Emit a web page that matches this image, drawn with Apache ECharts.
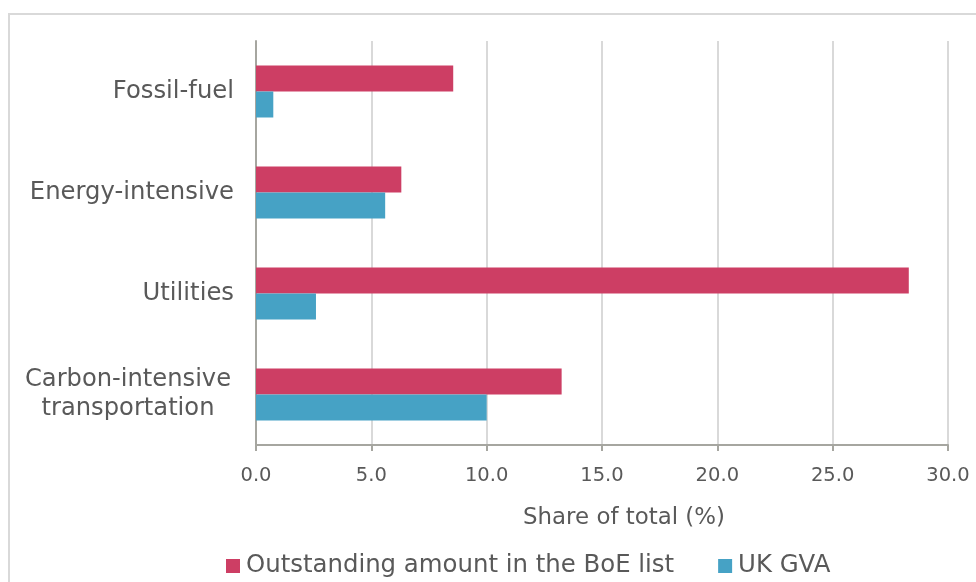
<!DOCTYPE html>
<html><head><meta charset="utf-8">
<script src="https://cdn.jsdelivr.net/npm/echarts@6/dist/echarts.min.js"></script>
<style>html,body{margin:0;padding:0;background:#fff}#c{width:976px;height:582px}</style>
</head><body><div id="c"></div>
<script>
const categories = ['Carbon-intensive transportation', 'Utilities', 'Energy-intensive', 'Fossil-fuel'];
const boeValues = [13.25, 28.3, 6.3, 8.55];
const gvaValues = [10.0, 2.6, 5.6, 0.75];
const seriesNames = ['Outstanding amount in the BoE list', 'UK GVA'];
const xTicks = { min: 0, max: 30, interval: 5 };

const FONT = '"DejaVu Sans", sans-serif';
const TXT = '#595959';
const chart = echarts.init(document.getElementById('c'), null, { renderer: 'canvas' });
chart.setOption({
  animation: false,
  backgroundColor: '#fff',
  graphic: [{
    type: 'rect', shape: { x: 9, y: 14, width: 1000, height: 600 },
    style: { fill: 'none', stroke: '#d9d9d9', lineWidth: 2 }, silent: true, z: -10
  }],
  grid: { left: 256, right: 28, top: 41, bottom: 137, containLabel: false },
  legend: {
    top: 549, left: 221, itemWidth: 14, itemHeight: 14, itemGap: 44,
    icon: 'rect',
    textStyle: { fontFamily: FONT, fontSize: 24.4, color: TXT, padding: [0, 0, 0, 1] },
    data: seriesNames
  },
  xAxis: {
    type: 'value', min: xTicks.min, max: xTicks.max, interval: xTicks.interval,
    name: 'Share of total (%)', nameLocation: 'middle', nameGap: 62,
    nameTextStyle: { fontFamily: FONT, fontSize: 22.9, color: TXT, padding: [0, 0, 0, 44] },
    axisLine: { show: true, lineStyle: { color: '#a6a6a0', width: 2 } },
    axisTick: { show: true, length: 6, lineStyle: { color: '#a6a6a0', width: 2 } },
    axisLabel: { fontFamily: FONT, fontSize: 19.5, color: TXT, margin: 21,
      formatter: v => v.toFixed(1) },
    splitLine: { show: true, lineStyle: { color: '#d9d9d9', width: 2 } }
  },
  yAxis: {
    type: 'category', data: categories,
    axisLine: { show: true, lineStyle: { color: '#a6a6a0', width: 2 } },
    axisTick: { show: false },
    axisLabel: {
      fontFamily: FONT, fontSize: 24.3, color: TXT, margin: 22, lineHeight: 29,
      formatter: v => v === 'Carbon-intensive transportation'
        ? '{c|Carbon-intensive}\n{c|transportation}' : v,
      rich: { c: { width: 212, align: 'center', fontFamily: FONT, fontSize: 24.2, color: TXT, lineHeight: 29 } }
    }
  },
  series: [
    { name: seriesNames[0], type: 'bar', data: boeValues, barWidth: 26, barGap: '0%',
      itemStyle: { color: '#cd3e64' } },
    { name: seriesNames[1], type: 'bar', data: gvaValues, barWidth: 26, barGap: '0%',
      itemStyle: { color: '#46a2c5' } }
  ]
});
</script></body></html>
